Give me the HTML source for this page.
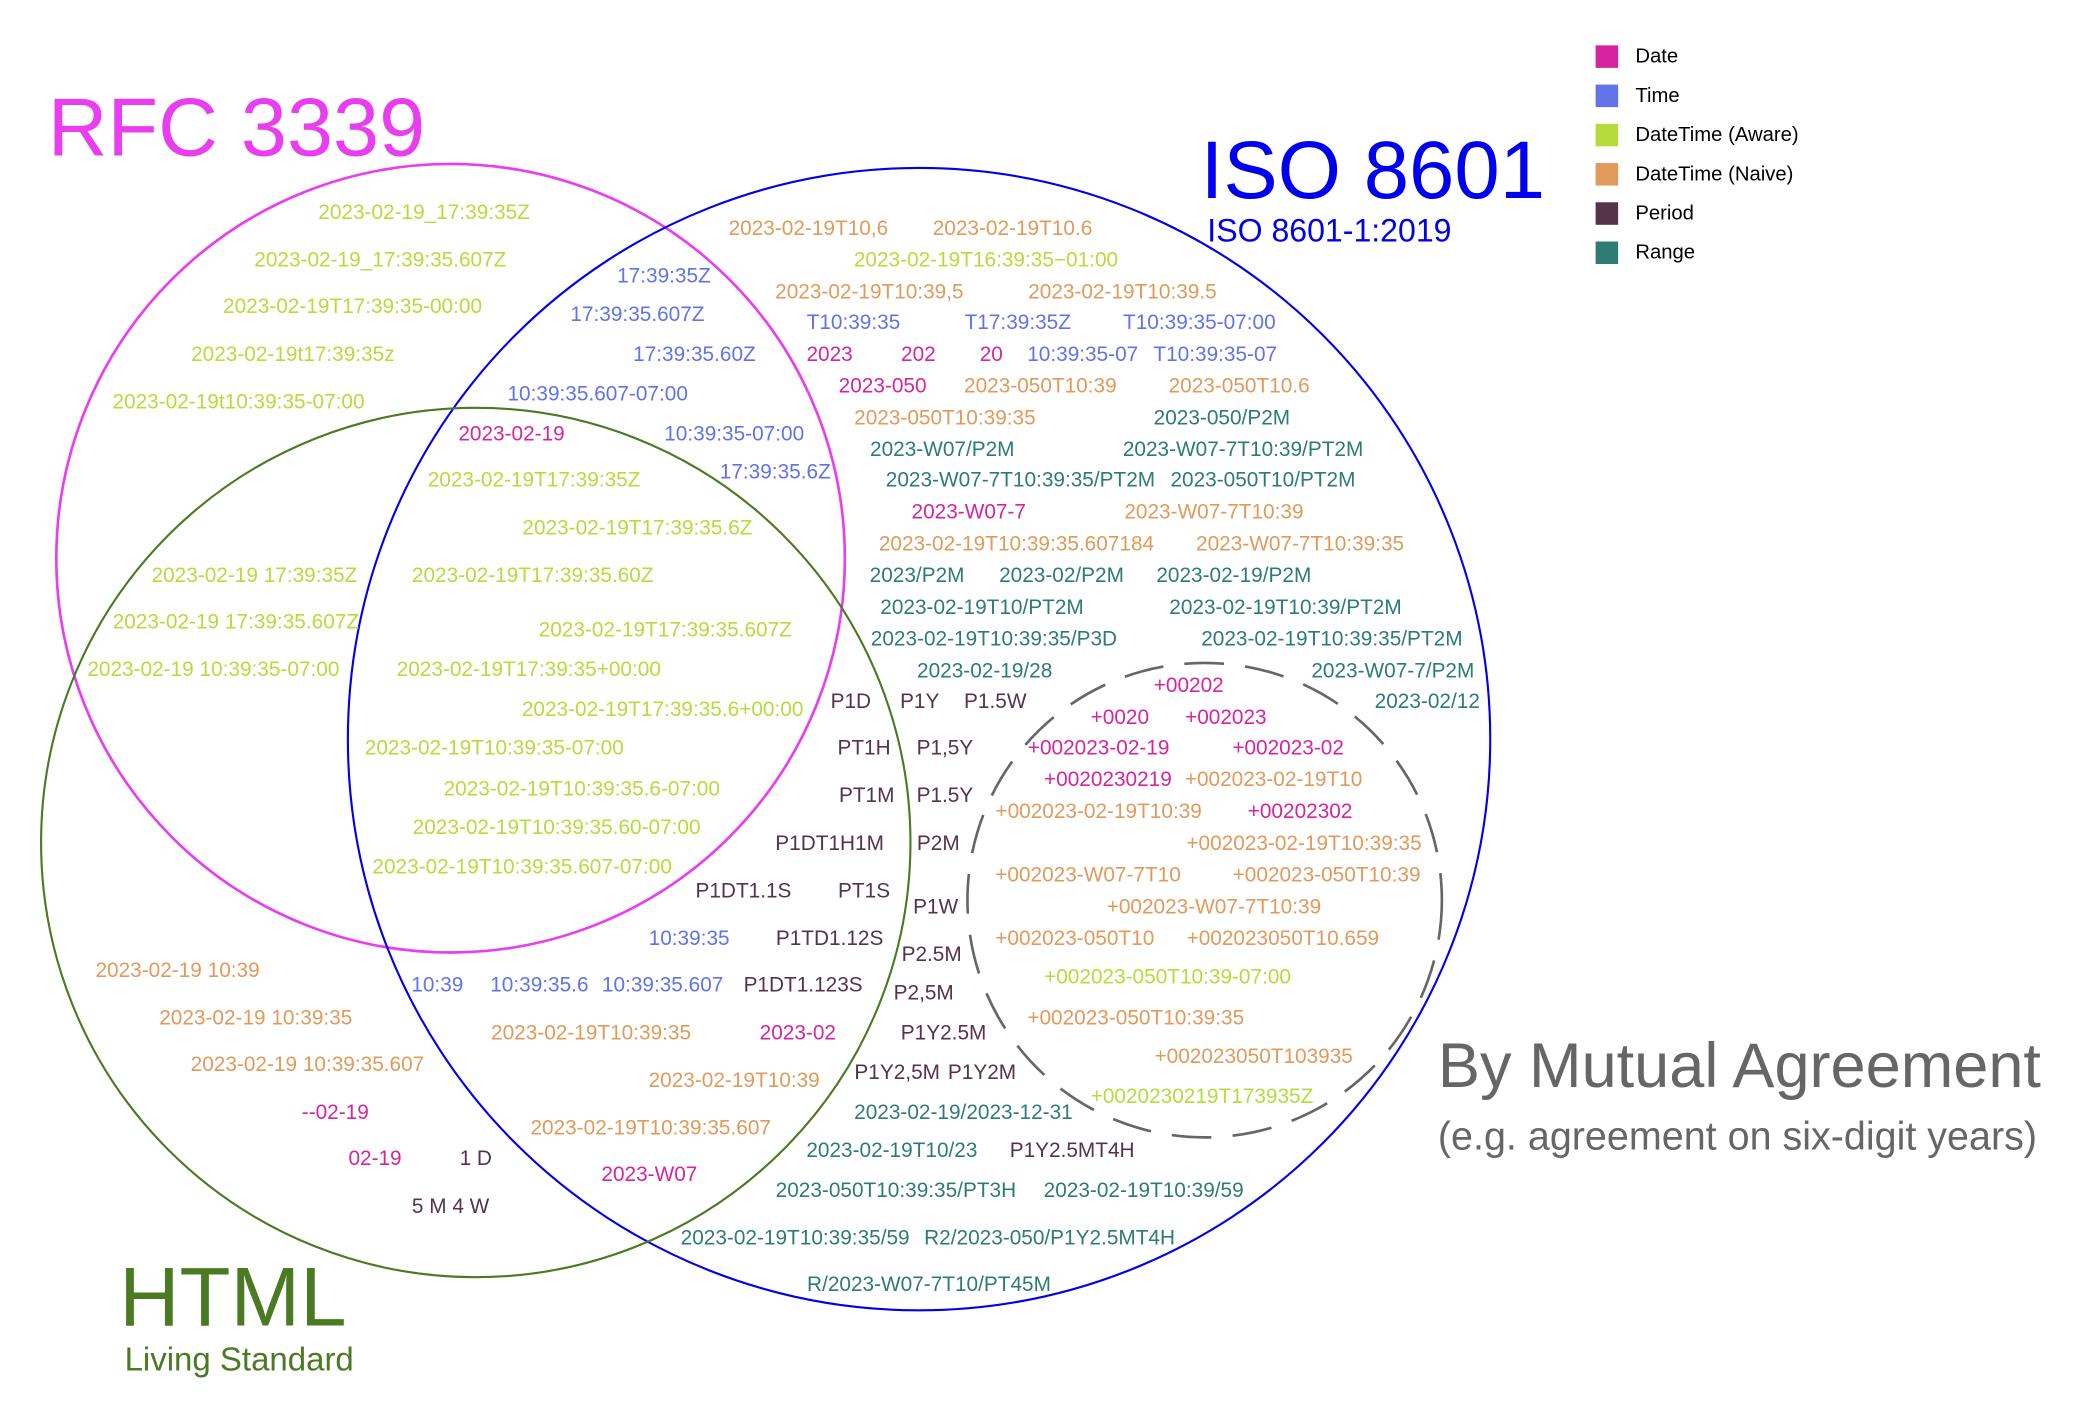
<!DOCTYPE html>
<html><head><meta charset="utf-8"><style>
html,body{margin:0;padding:0;background:#fff;}
svg{display:block;font-family:"Liberation Sans",sans-serif;}
</style></head><body>
<svg id="chart" width="2078" height="1412" viewBox="0 0 1568 1065" xmlns="http://www.w3.org/2000/svg">
<rect width="1568" height="1065" fill="#fff"/>
<circle cx="340" cy="421" r="297.5" fill="none" stroke="#e83ef0" stroke-width="2"/>
<circle cx="693.5" cy="557.5" r="431" fill="none" stroke="#0000ee" stroke-width="1.6"/>
<circle cx="359" cy="635.5" r="328" fill="none" stroke="#4a7a22" stroke-width="1.6"/>
<circle cx="909" cy="679" r="179" fill="none" stroke="#666" stroke-width="2" stroke-dasharray="30,16"/>
<text x="36" y="117" font-size="62.5" fill="#e83ef0">RFC 3339</text>
<text x="906" y="149" font-size="61.5" fill="#0000ee">ISO 8601</text>
<text x="911" y="182" font-size="24.2" fill="#0000ee">ISO 8601-1:2019</text>
<text x="90" y="1000" font-size="63" fill="#4a7a22">HTML</text>
<text x="94" y="1034" font-size="24.9" fill="#4a7a22">Living Standard</text>
<text x="1085" y="820" font-size="47.6" fill="#666">By Mutual Agreement</text>
<text x="1085" y="867" font-size="29.8" fill="#666">(e.g. agreement on six-digit years)</text>
<g id="legend"></g>
<g id="labels"></g>
</svg>
<script>
const categories = ["Date","Time","DateTime (Aware)","DateTime (Naive)","Period","Range"];
const categoryColors = ["#d6249f","#6272e8","#b5dc3c","#e09a5b","#553348","#2e7b74"];
const awareLabels = [
["2023-02-19_17:39:35Z",320,160],["2023-02-19_17:39:35.607Z",287,196],["2023-02-19T17:39:35-00:00",266,231],
["2023-02-19t17:39:35z",221,267],["2023-02-19t10:39:35-07:00",180,303],["2023-02-19T17:39:35Z",403,362],
["2023-02-19T17:39:35.6Z",481,398],["2023-02-19 17:39:35Z",192,434],["2023-02-19T17:39:35.60Z",402,434],
["2023-02-19 17:39:35.607Z",178,469],["2023-02-19T17:39:35.607Z",502,475],["2023-02-19 10:39:35-07:00",161,505],
["2023-02-19T17:39:35+00:00",399,505],["2023-02-19T17:39:35.6+00:00",500,535],["2023-02-19T10:39:35-07:00",373,564],
["2023-02-19T10:39:35.6-07:00",439,595],["2023-02-19T10:39:35.60-07:00",420,624],["2023-02-19T10:39:35.607-07:00",394,654],
["2023-02-19T16:39:35\u221201:00",744,196],["+002023-050T10:39-07:00",881,737],["+0020230219T173935Z",907,827]];
const timeLabels = [
["17:39:35Z",501,208],["17:39:35.607Z",481,237],["17:39:35.60Z",524,267],["10:39:35.607-07:00",451,297],
["10:39:35-07:00",554,327],["17:39:35.6Z",585,356],["T10:39:35",644,243],["T17:39:35Z",768,243],
["T10:39:35-07:00",905,243],["10:39:35-07",817,267],["T10:39:35-07",917,267],["10:39:35",520,708],
["10:39",330,743],["10:39:35.6",407,743],["10:39:35.607",500,743]];
const dateLabels = [
["2023-02-19",386,327],["2023",626,267],["202",693,267],["20",748,267],["2023-050",666,291],["2023-W07-7",731,386],
["+00202",897,517],["+0020",845,541],["+002023",925,541],["+002023-02-19",829,564],["+002023-02",972,564],
["+0020230219",836,588],["+00202302",981,612],["2023-02",602,779],["--02-19",253,839],["02-19",283,874],["2023-W07",490,886]];
const naiveLabels = [
["2023-02-19T10,6",610,172],["2023-02-19T10.6",764,172],["2023-02-19T10:39,5",656,220],["2023-02-19T10:39.5",847,220],
["2023-050T10:39",785,291],["2023-050T10.6",935,291],["2023-050T10:39:35",713,315],["2023-W07-7T10:39",916,386],
["2023-02-19T10:39:35.607184",767,410],["2023-W07-7T10:39:35",981,410],["+002023-02-19T10",961,588],
["+002023-02-19T10:39",829,612],["+002023-02-19T10:39:35",984,636],["+002023-W07-7T10",821,660],
["+002023-050T10:39",1001,660],["+002023-W07-7T10:39",916,684],["+002023-050T10",811,708],
["+002023050T10.659",968,708],["+002023-050T10:39:35",857,768],["+002023050T103935",946,797],
["2023-02-19 10:39",134,732],["2023-02-19 10:39:35",193,768],["2023-02-19 10:39:35.607",232,803],
["2023-02-19T10:39:35",446,779],["2023-02-19T10:39",554,815],["2023-02-19T10:39:35.607",491,851]];
const rangeLabels = [
["2023-050/P2M",922,315],["2023-W07/P2M",711,339],["2023-W07-7T10:39/PT2M",938,339],["2023-W07-7T10:39:35/PT2M",770,362],
["2023-050T10/PT2M",953,362],["2023/P2M",692,434],["2023-02/P2M",801,434],["2023-02-19/P2M",931,434],
["2023-02-19T10/PT2M",741,458],["2023-02-19T10:39/PT2M",970,458],["2023-02-19T10:39:35/P3D",750,482],
["2023-02-19T10:39:35/PT2M",1005,482],["2023-02-19/28",743,506],["2023-W07-7/P2M",1051,506],["2023-02/12",1077,529],
["2023-02-19/2023-12-31",727,839],["2023-02-19T10/23",673,868],["2023-050T10:39:35/PT3H",676,898],
["2023-02-19T10:39/59",863,898],["2023-02-19T10:39:35/59",600,934],["R2/2023-050/P1Y2.5MT4H",792,934],
["R/2023-W07-7T10/PT45M",701,969]];
const periodLabels = [
["P1D",642,529],["P1Y",694,529],["P1.5W",751,529],["PT1H",652,564],["P1,5Y",713,564],["PT1M",654,600],
["P1.5Y",713,600],["P1DT1H1M",626,636],["P2M",708,636],["P1DT1.1S",561,672],["PT1S",652,672],["P1W",706,684],
["P1TD1.12S",626,708],["P2.5M",703,720],["P1DT1.123S",606,743],["P2,5M",697,749],["P1Y2.5M",712,779],
["P1Y2,5M",677,809],["P1Y2M",741,809],["P1Y2.5MT4H",809,868],["1 D",359,874],["5 M 4 W",340,910]];
const NS="http://www.w3.org/2000/svg";
const groups=[[dateLabels,0],[timeLabels,1],[awareLabels,2],[naiveLabels,3],[periodLabels,4],[rangeLabels,5]];
const lg=document.getElementById('labels');
groups.forEach(([arr,ci])=>{
  arr.forEach(([t,x,y])=>{
    const el=document.createElementNS(NS,'text');
    
    
    el.setAttribute('x',x);el.setAttribute('y',y+5);
    el.setAttribute('text-anchor','middle');
    el.setAttribute('font-size','15.7');
    el.setAttribute('fill',categoryColors[ci]);
    el.textContent=t;lg.appendChild(el);
  });
});
const leg=document.getElementById('legend');
categories.forEach((c,i)=>{
  const y=34+i*29.6;
  const r=document.createElementNS(NS,'rect');
  
  
  r.setAttribute('x',1204);r.setAttribute('y',y);r.setAttribute('width',17);r.setAttribute('height',17);
  r.setAttribute('fill',categoryColors[i]);leg.appendChild(r);
  const t=document.createElementNS(NS,'text');
  
  
  t.setAttribute('x',1234);t.setAttribute('y',y+13);t.setAttribute('font-size','15.3');t.setAttribute('fill','#000');
  t.textContent=c;leg.appendChild(t);
});
</script>
</body></html>
